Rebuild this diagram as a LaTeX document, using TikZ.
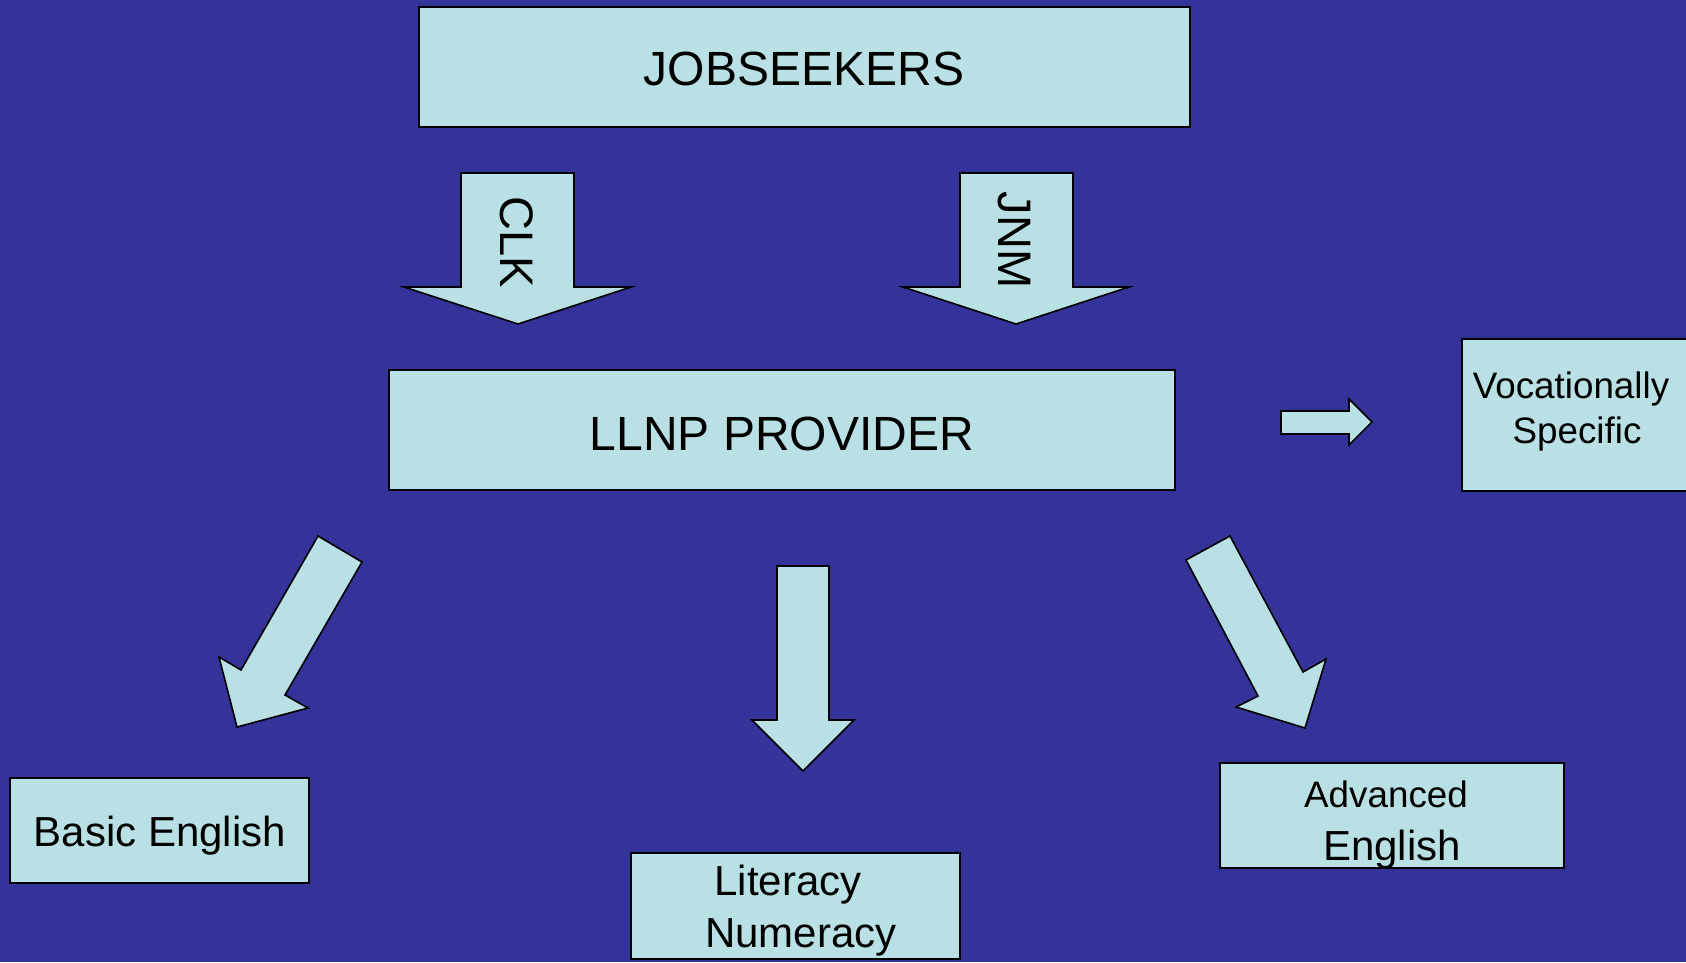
\documentclass[tikz,border=0pt]{standalone}
\usepackage{fontspec}
\setmainfont{Liberation Sans}
\definecolor{bg}{RGB}{51,51,153}
\definecolor{boxfill}{RGB}{185,224,228}
\begin{document}
\begin{tikzpicture}[x=1pt,y=-1pt,
  blk/.style={draw=black, fill=boxfill, line width=1.6pt, line join=miter},
  boxnode/.style={blk, rectangle, inner sep=0pt},
  big/.style={anchor=base, inner sep=0pt, font=\fontsize{48}{56}\selectfont},
  mid/.style={anchor=base, inner sep=0pt, font=\fontsize{42}{50}\selectfont},
  small/.style={anchor=base, inner sep=0pt, font=\fontsize{36.8}{44}\selectfont}]
\useasboundingbox (0,0) rectangle (1686,962);
\clip (0,0) rectangle (1686,962);
\fill[bg] (0,0) rectangle (1686,962);

% boxes
\node[boxnode, minimum width=771pt, minimum height=120.5pt] (jobs) at (804.5,67) {};
\node[boxnode, minimum width=786pt, minimum height=120pt] (llnp) at (782,430) {};
\node[boxnode, minimum width=238pt, minimum height=152pt] (voc) at (1581,415) {};
\node[boxnode, minimum width=299pt, minimum height=105pt] (basic) at (159.5,830.5) {};
\node[boxnode, minimum width=329pt, minimum height=106pt] (lit) at (795.5,906) {};
\node[boxnode, minimum width=344pt, minimum height=105pt] (adv) at (1392,815.5) {};

% texts
\node[big] (tjobs) at (804,85) {JOBSEEKERS};
\node[big] (tllnp) at (782,450.5) {LLNP PROVIDER};
\node[small] (tvoc1) at (1571,398) {Vocationally};
\node[small] (tvoc2) at (1577,443) {Specific};
\node[mid] (tbasic) at (160,846) {Basic English};
\node[mid] (tlit1) at (788,895) {Literacy};
\node[mid] (tlit2) at (801,947) {Numeracy};
\node[small] (tadv1) at (1386,807) {Advanced};
\node[mid] (tadv2) at (1392,860) {English};

% down arrows from jobseekers
\draw[blk] (461,173) -- (574,173) -- (574,287) -- (631,287) -- (518,324)
  -- (404,287) -- (461,287) -- cycle;
\draw[blk] (960,173) -- (1073,173) -- (1073,287) -- (1129,287) -- (1016,324)
  -- (903,287) -- (960,287) -- cycle;
\node[inner sep=0pt, rotate=-90, font=\fontsize{47}{56}\selectfont] (tclk) at (517,242) {CLK};
\node[inner sep=0pt, rotate=-90, font=\fontsize{47}{56}\selectfont] (tjnm) at (1014,240) {JNM};

% right arrow
\draw[blk] (1281,411) -- (1349,411) -- (1349,399) -- (1372,422) -- (1349,445)
  -- (1349,434) -- (1281,434) -- cycle;

% diagonal arrows
\draw[blk] (318,536) -- (362,562) -- (285,695) -- (308,708) -- (237,727)
  -- (219,657) -- (241,670) -- cycle;
\draw[blk] (1186,560) -- (1230,536) -- (1303,672) -- (1326,659) -- (1305,728)
  -- (1236,707) -- (1258,696) -- cycle;

% center arrow
\draw[blk] (777,566) -- (829,566) -- (829,720) -- (854,720) -- (803,771)
  -- (752,720) -- (777,720) -- cycle;
\end{tikzpicture}
\end{document}
